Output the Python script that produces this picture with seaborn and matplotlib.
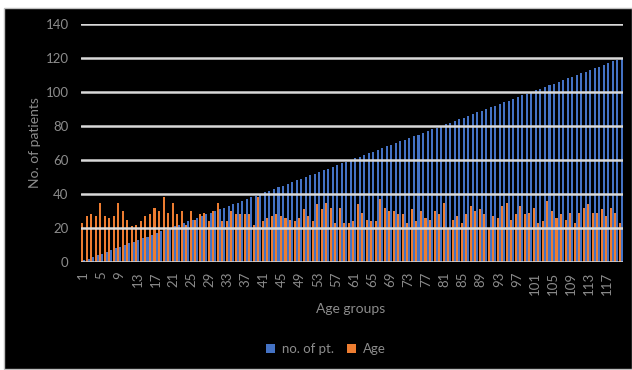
import matplotlib
matplotlib.use("Agg")
import matplotlib.pyplot as plt
from matplotlib.patches import Patch, Rectangle
import seaborn as sns
import pandas as pd

# Age group categories (1..120)
age_groups = [str(i) for i in range(1, 121)]

# Number of patients per age group
no_of_pt = [
    1, 2, 3, 4, 5, 6, 7, 8, 9, 10, 11, 12, 13, 14, 15, 16, 17, 18, 19, 20,
    21, 22, 23, 24, 25, 26, 27, 28, 29, 30, 31, 32, 33, 34, 35, 36, 37, 38, 39, 40,
    41, 42, 43, 44, 45, 46, 47, 48, 49, 50, 51, 52, 53, 54, 55, 56, 57, 58, 59, 60,
    61, 62, 63, 64, 65, 66, 67, 68, 69, 70, 71, 72, 73, 74, 75, 76, 77, 78, 79, 80,
    81, 82, 83, 84, 85, 86, 87, 88, 89, 90, 91, 92, 93, 94, 95, 96, 97, 98, 99, 100,
    101, 102, 103, 104, 105, 106, 107, 108, 109, 110, 111, 112, 113, 114, 115, 116, 117, 118, 119, 120,
]

# Age per group
age = [
    23, 27, 28, 27, 35, 27, 26, 27, 35, 30, 25, 21, 22, 24, 27, 28, 32, 30, 38, 29,
    35, 28, 30, 22, 30, 25, 28, 29, 24, 30, 35, 24, 24, 30, 28, 28, 28, 28, 22, 38,
    24, 26, 27, 28, 27, 26, 25, 24, 26, 31, 27, 24, 34, 31, 35, 32, 23, 32, 23, 23,
    24, 34, 29, 25, 24, 24, 37, 32, 30, 30, 28, 28, 23, 31, 24, 30, 26, 25, 30, 28,
    35, 20, 25, 27, 23, 28, 33, 30, 31, 28, 20, 27, 26, 33, 35, 25, 28, 33, 28, 29,
    32, 23, 24, 36, 30, 26, 28, 25, 29, 23, 29, 32, 34, 29, 29, 31, 27, 32, 29, 23,
]

y_ticks = [0, 20, 40, 60, 80, 100, 120, 140]

BLUE = "#4472C4"
ORANGE = "#ED7D31"
TEXT = "#8c8c8c"
GRID = "#d9d9d9"

df = pd.concat([
    pd.DataFrame({"group": age_groups, "series": "no. of pt.", "value": no_of_pt}),
    pd.DataFrame({"group": age_groups, "series": "Age", "value": age}),
])

sns.set_theme(style="dark")
plt.rcParams["font.family"] = ["Lato", "DejaVu Sans"]

W, H = 632, 370
fig = plt.figure(figsize=(W / 100, H / 100), dpi=100, facecolor="white")

# dark chart area with a thin grey frame, kept behind the axes
fig.patches.append(Rectangle((4 / W, 1 / H), (W - 4) / W, (H - 9) / H,
                             transform=fig.transFigure, facecolor="black",
                             edgecolor="#bfbfbf", linewidth=1.0, zorder=-10))

ax = fig.add_axes([81 / W, 1 - 262 / H, 542 / W, 238 / H])
ax.set_facecolor("black")

sns.barplot(data=df, x="group", y="value", hue="series", order=age_groups,
            hue_order=["Age", "no. of pt."],
            palette={"no. of pt.": BLUE, "Age": ORANGE},
            width=0.9, saturation=1, legend=False, linewidth=0, ax=ax)

ax.set_ylim(0, 140)
ax.set_xlim(-0.5, len(age_groups) - 0.5)
ax.set_yticks(y_ticks)
ax.set_yticklabels([str(v) for v in y_ticks], color=TEXT, fontsize=9.5)
xt = list(range(0, len(age_groups), 4))
ax.set_xticks(xt)
ax.set_xticklabels([age_groups[i] for i in xt], rotation=90, color=TEXT, fontsize=9.5)
ax.tick_params(axis="y", length=0, pad=9)
ax.tick_params(axis="x", length=0, pad=7)
ax.set_xlabel("")
ax.set_ylabel("")

ax.set_axisbelow(False)
ax.grid(axis="y", color=GRID, linewidth=1.8)
ax.grid(axis="x", visible=False)
for s in ax.spines.values():
    s.set_visible(False)

fig.text(35 / W, 1 - 143 / H, "No. of patients", rotation=90, ha="center",
         va="center", color=TEXT, fontsize=10)
fig.text(351 / W, 1 - 309 / H, "Age groups", ha="center", va="center",
         color=TEXT, fontsize=10)

handles = [Patch(facecolor=BLUE, edgecolor="none", label="no. of pt."),
           Patch(facecolor=ORANGE, edgecolor="none", label="Age")]
fig.legend(handles=handles, loc="center", bbox_to_anchor=(326 / W, 1 - 349 / H),
           ncol=2, frameon=False, fontsize=9.5, labelcolor=TEXT,
           handlelength=0.7, handleheight=0.7, handletextpad=0.5,
           columnspacing=1.0)

fig.savefig("out.png", dpi=100, facecolor="white")
